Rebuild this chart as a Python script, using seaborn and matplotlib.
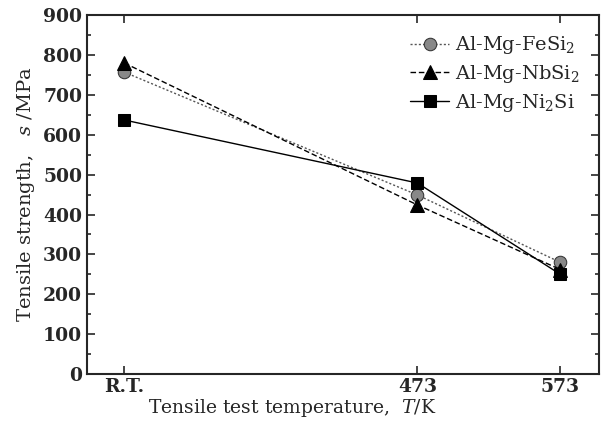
import numpy             as np
import pandas            as pd
import seaborn           as sns
import matplotlib.pyplot as plt

from matplotlib.ticker   import MultipleLocator

# test temperatures (R.T. drawn at its position on the K axis)
temperatures = [268, 473, 573]
temp_labels  = ["R.T.", "473", "573"]

fesi2  = [757, 449, 280]
nbsi2  = [780, 424, 262]
ni2si  = [637, 479, 250]

series_names = ["Al-Mg-FeSi$_2$", "Al-Mg-NbSi$_2$", "Al-Mg-Ni$_2$Si"]

sns.set_style("ticks")
plt.rcParams['font.family'] = ['DejaVu Serif']
plt.rcParams['mathtext.fontset'] = 'dejavuserif'

fig = plt.figure(figsize=(6.1, 4.3), dpi=100)
ax  = fig.add_axes([0.1426, 0.130, 0.8394, 0.835])

styles = [
    dict(marker="o", linestyle=(0, (1.5, 1.5)), color="#555555", mfc="#888888", mec="#333333", ms=9),
    dict(marker="^", linestyle=(0, (4, 2)),     color="black",   mfc="black",   mec="black",   ms=10),
    dict(marker="s", linestyle="-",             color="black",   mfc="black",   mec="black",   ms=9),
]

for values, name, st in zip([fesi2, nbsi2, ni2si], series_names, styles):
    df = pd.DataFrame({"T": temperatures, "strength": values})
    sns.lineplot(
        data            =df,
        x               ="T",
        y               ="strength",
        ax              =ax,
        label           =name,
        color           =st["color"],
        marker          =st["marker"],
        linestyle       =st["linestyle"],
        markersize      =st["ms"],
        markerfacecolor =st["mfc"],
        markeredgecolor =st["mec"],
        linewidth       =1.0
    )

ax.set_xlim(242, 600)
ax.set_ylim(0, 900)
ax.set_xticks(temperatures)
ax.set_xticklabels(temp_labels)
ax.yaxis.set_major_locator(MultipleLocator(100))
ax.yaxis.set_minor_locator(MultipleLocator(50))

ax.tick_params(which="both", direction="in", top=True, right=True, width=1.2)
ax.tick_params(which="major", length=6, labelsize=13.5)
ax.tick_params(axis="x", pad=3)
ax.tick_params(which="minor", length=3)
for sp in ax.spines.values():
    sp.set_linewidth(1.5)
    sp.set_visible(True)

for lbl in ax.get_xticklabels() + ax.get_yticklabels():
    lbl.set_fontweight("bold")

ax.set_xlabel("Tensile test temperature,  $\\it{T}$/K", fontsize=13.5)
ax.xaxis.set_label_coords(0.40, -0.065)
ax.set_ylabel("Tensile strength,   $\\bf{\\it{s}}$ /MPa", fontsize=14, labelpad=4)

leg = ax.legend(
    loc          ="upper right",
    frameon      =False,
    fontsize     =14,
    handlelength =2.0,
    handletextpad=0.3,
    labelspacing =0.35,
    borderaxespad=0.6
)

fig.savefig("out.png", dpi=100)
